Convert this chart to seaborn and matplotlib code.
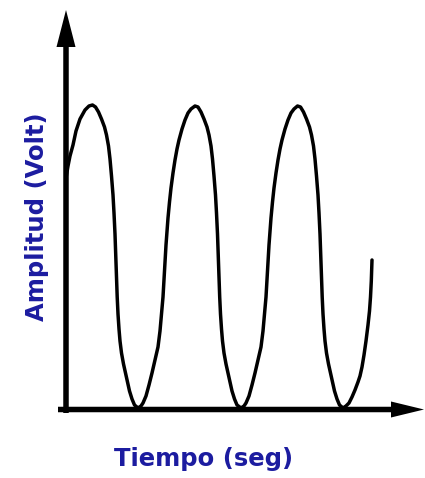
import seaborn as sns
import pandas as pd
from matplotlib import pyplot as plt

# curve: time in ms, amplitude in arbitrary units (0 = time axis)
t_ms = [0, 2, 4, 7, 10, 14, 19, 23,
        26.5, 29.5, 32.5, 35.5, 38.5, 40.5, 42.5, 44, 45.5, 47, 48, 49, 49.8, 50.5,
        51.2, 52, 53, 54, 55.5, 57.5, 59.5, 61.5, 63.5, 66, 68.5, 72,
        75, 77, 80, 83, 86, 89, 92, 94, 95.5, 97, 98, 99, 100, 101, 102, 103.5, 105,
        107, 109, 111, 113, 116, 119, 122, 125, 129,
        132, 135, 138, 141, 143, 145, 146.5, 148, 149.5, 150.5, 151.5, 152.3, 153,
        153.7, 154.5, 155.5, 156.5, 158, 160, 162, 164, 166, 168.5, 171, 175,
        178, 180, 183, 186, 189, 192, 195, 197, 198.5, 200, 201, 202, 203, 204, 205,
        206.5, 208, 210, 212, 214, 216, 219, 222, 225, 228, 231.5,
        234.5, 237.5, 240.5, 243.5, 245.5, 247.5, 249, 250.5, 252, 253, 254, 254.8,
        255.5, 256.2, 257, 258, 259, 260.5, 262.5, 264.5, 266.5, 268.5, 271, 273.5,
        277,
        280, 283, 286, 289, 292, 294, 296, 298, 300, 302, 303.5, 304.5, 305.3, 306]
amp = [231, 243, 253, 264, 278, 290, 299, 303,
       304, 302, 297, 290, 282, 274, 263, 250, 233, 214, 196, 175, 152, 130, 112, 95,
       80, 68, 56, 45, 36, 27, 18, 10, 4, 1,
       3, 6, 13, 24, 36, 49, 62, 78, 95, 112, 130, 148, 164, 178, 191, 207, 221,
       236, 249, 260, 269, 280, 289, 296, 300, 303,
       302, 297, 290, 282, 274, 263, 250, 233, 214, 196, 175, 152, 130, 112, 95, 80,
       68, 56, 45, 36, 27, 18, 10, 4, 1,
       3, 6, 13, 24, 36, 49, 62, 78, 95, 112, 130, 148, 164, 178, 191, 207, 221,
       236, 249, 260, 269, 280, 289, 296, 300, 303,
       302, 297, 290, 282, 274, 263, 250, 233, 214, 196, 175, 152, 130, 112, 95, 80,
       68, 56, 45, 36, 27, 18, 10, 4, 1,
       3, 6, 12, 19, 27, 33, 42, 54, 68, 84, 98, 112, 128, 149]

xlabel = 'Tiempo (seg)'
ylabel = 'Amplitud (Volt)'

sns.set_theme(style='white')
plt.rcParams['font.family'] = ['DejaVu Sans']

fig = plt.figure(figsize=(4.25, 4.78), dpi=100)
ax = fig.add_axes([0, 0, 1, 1])
ax.set_xlim(-66, 359)
ax.set_ylim(-69, 409)
ax.axis('off')

df = pd.DataFrame({'t': t_ms, 'a': amp})
sns.lineplot(data=df, x='t', y='a', sort=False, estimator=None, color='black',
             linewidth=2.5, ax=ax)
for ln in ax.lines:
    ln.set_solid_joinstyle('round')
    ln.set_solid_capstyle('round')

# axes drawn as arrows (1 data unit is 1 pixel both ways)
ax.arrow(0, -4, 0, 403, width=5.5, head_width=19, head_length=37,
         length_includes_head=True, color='black', lw=0)
ax.arrow(-8, -0.5, 366, 0, width=5.5, head_width=16, head_length=33,
         length_includes_head=True, color='black', lw=0)

blue = '#1c1ca0'
ax.text(138, -50, xlabel, ha='center', va='center', fontsize=17.5, fontweight='bold',
        color=blue)
ax.text(-29, 192, ylabel, ha='center', va='center', fontsize=17.5, fontweight='bold',
        color=blue, rotation=90)

plt.savefig('out.png', dpi=100, facecolor='white')
